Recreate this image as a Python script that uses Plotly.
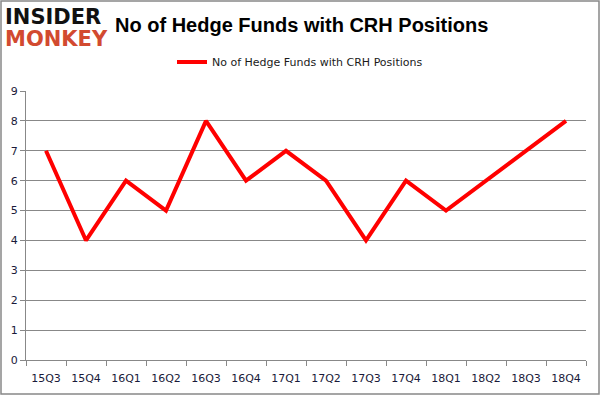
import plotly.graph_objects as go

quarters = ["15Q3", "15Q4", "16Q1", "16Q2", "16Q3", "16Q4", "17Q1", "17Q2",
            "17Q3", "17Q4", "18Q1", "18Q2", "18Q3", "18Q4"]
funds = [7, 4, 6, 5, 8, 6, 7, 6, 4, 6, 5, 6, 7, 8]
series_name = "No of Hedge Funds with CRH Positions"
y_ticks = list(range(0, 10))

L, R, T, B = 26, 15, 91, 36
W, H = 601, 396
pw, ph = W - L - R, H - T - B

def px_x(p):
    return (p - L) / pw

def px_y(p):
    return (H - B - p) / ph

fig = go.Figure()
fig.add_trace(go.Scatter(
    x=quarters, y=funds, mode="lines", name=series_name,
    line=dict(color="#ff0000", width=4),
))

fig.update_layout(
    width=W, height=H,
    margin=dict(l=L, r=R, t=T, b=B, autoexpand=False),
    paper_bgcolor="white", plot_bgcolor="white",
    font=dict(family="DejaVu Sans", size=11, color="#1a1a3a"),
    showlegend=True,
    legend=dict(orientation="h", x=px_x(300), xanchor="center",
                y=px_y(62), yanchor="middle",
                font=dict(family="DejaVu Sans", size=11, color="#1a1a1a"),
                bgcolor="rgba(0,0,0,0)"),
    xaxis=dict(type="category", showline=True, linecolor="#888888", linewidth=1,
               ticks="outside", tickson="boundaries", ticklen=5, tickcolor="#888888",
               showgrid=False, tickfont=dict(size=11, color="#1a1a3a"),
               ticklabelstandoff=8,
               range=[-0.5, len(quarters) - 0.5], fixedrange=True, automargin=False),
    yaxis=dict(range=[0, 9], tickvals=y_ticks, showline=True, linecolor="#888888",
               linewidth=1, ticks="outside", ticklen=5, tickcolor="#888888",
               showgrid=True, gridcolor="#888888", gridwidth=1, zeroline=False,
               tickfont=dict(size=11, color="#1a1a3a"), fixedrange=True, automargin=False),
    shapes=[dict(type="rect", xref="paper", yref="paper",
                 x0=px_x(1), x1=px_x(599), y0=px_y(394), y1=px_y(1),
                 line=dict(color="#888888", width=1.5), layer="below")],
    annotations=[
        dict(text="<b>No of Hedge Funds with CRH Positions</b>", xref="paper", yref="paper",
             x=px_x(301), y=px_y(25), xanchor="center", yanchor="middle", showarrow=False,
             font=dict(family="Liberation Sans", size=20, color="#000000")),
        dict(text="<b>INSIDER</b>", xref="paper", yref="paper",
             x=px_x(3), y=px_y(17), xanchor="left", yanchor="middle", showarrow=False,
             font=dict(family="DejaVu Sans", size=21, color="#111111")),
        dict(text="<b>MONKEY</b>", xref="paper", yref="paper",
             x=px_x(3), y=px_y(39), xanchor="left", yanchor="middle", showarrow=False,
             font=dict(family="DejaVu Sans", size=21, color="#d24a30")),
    ],
)

fig.write_html("out.html", post_script="document.body.style.margin='0';",
               config={"displayModeBar": False})
